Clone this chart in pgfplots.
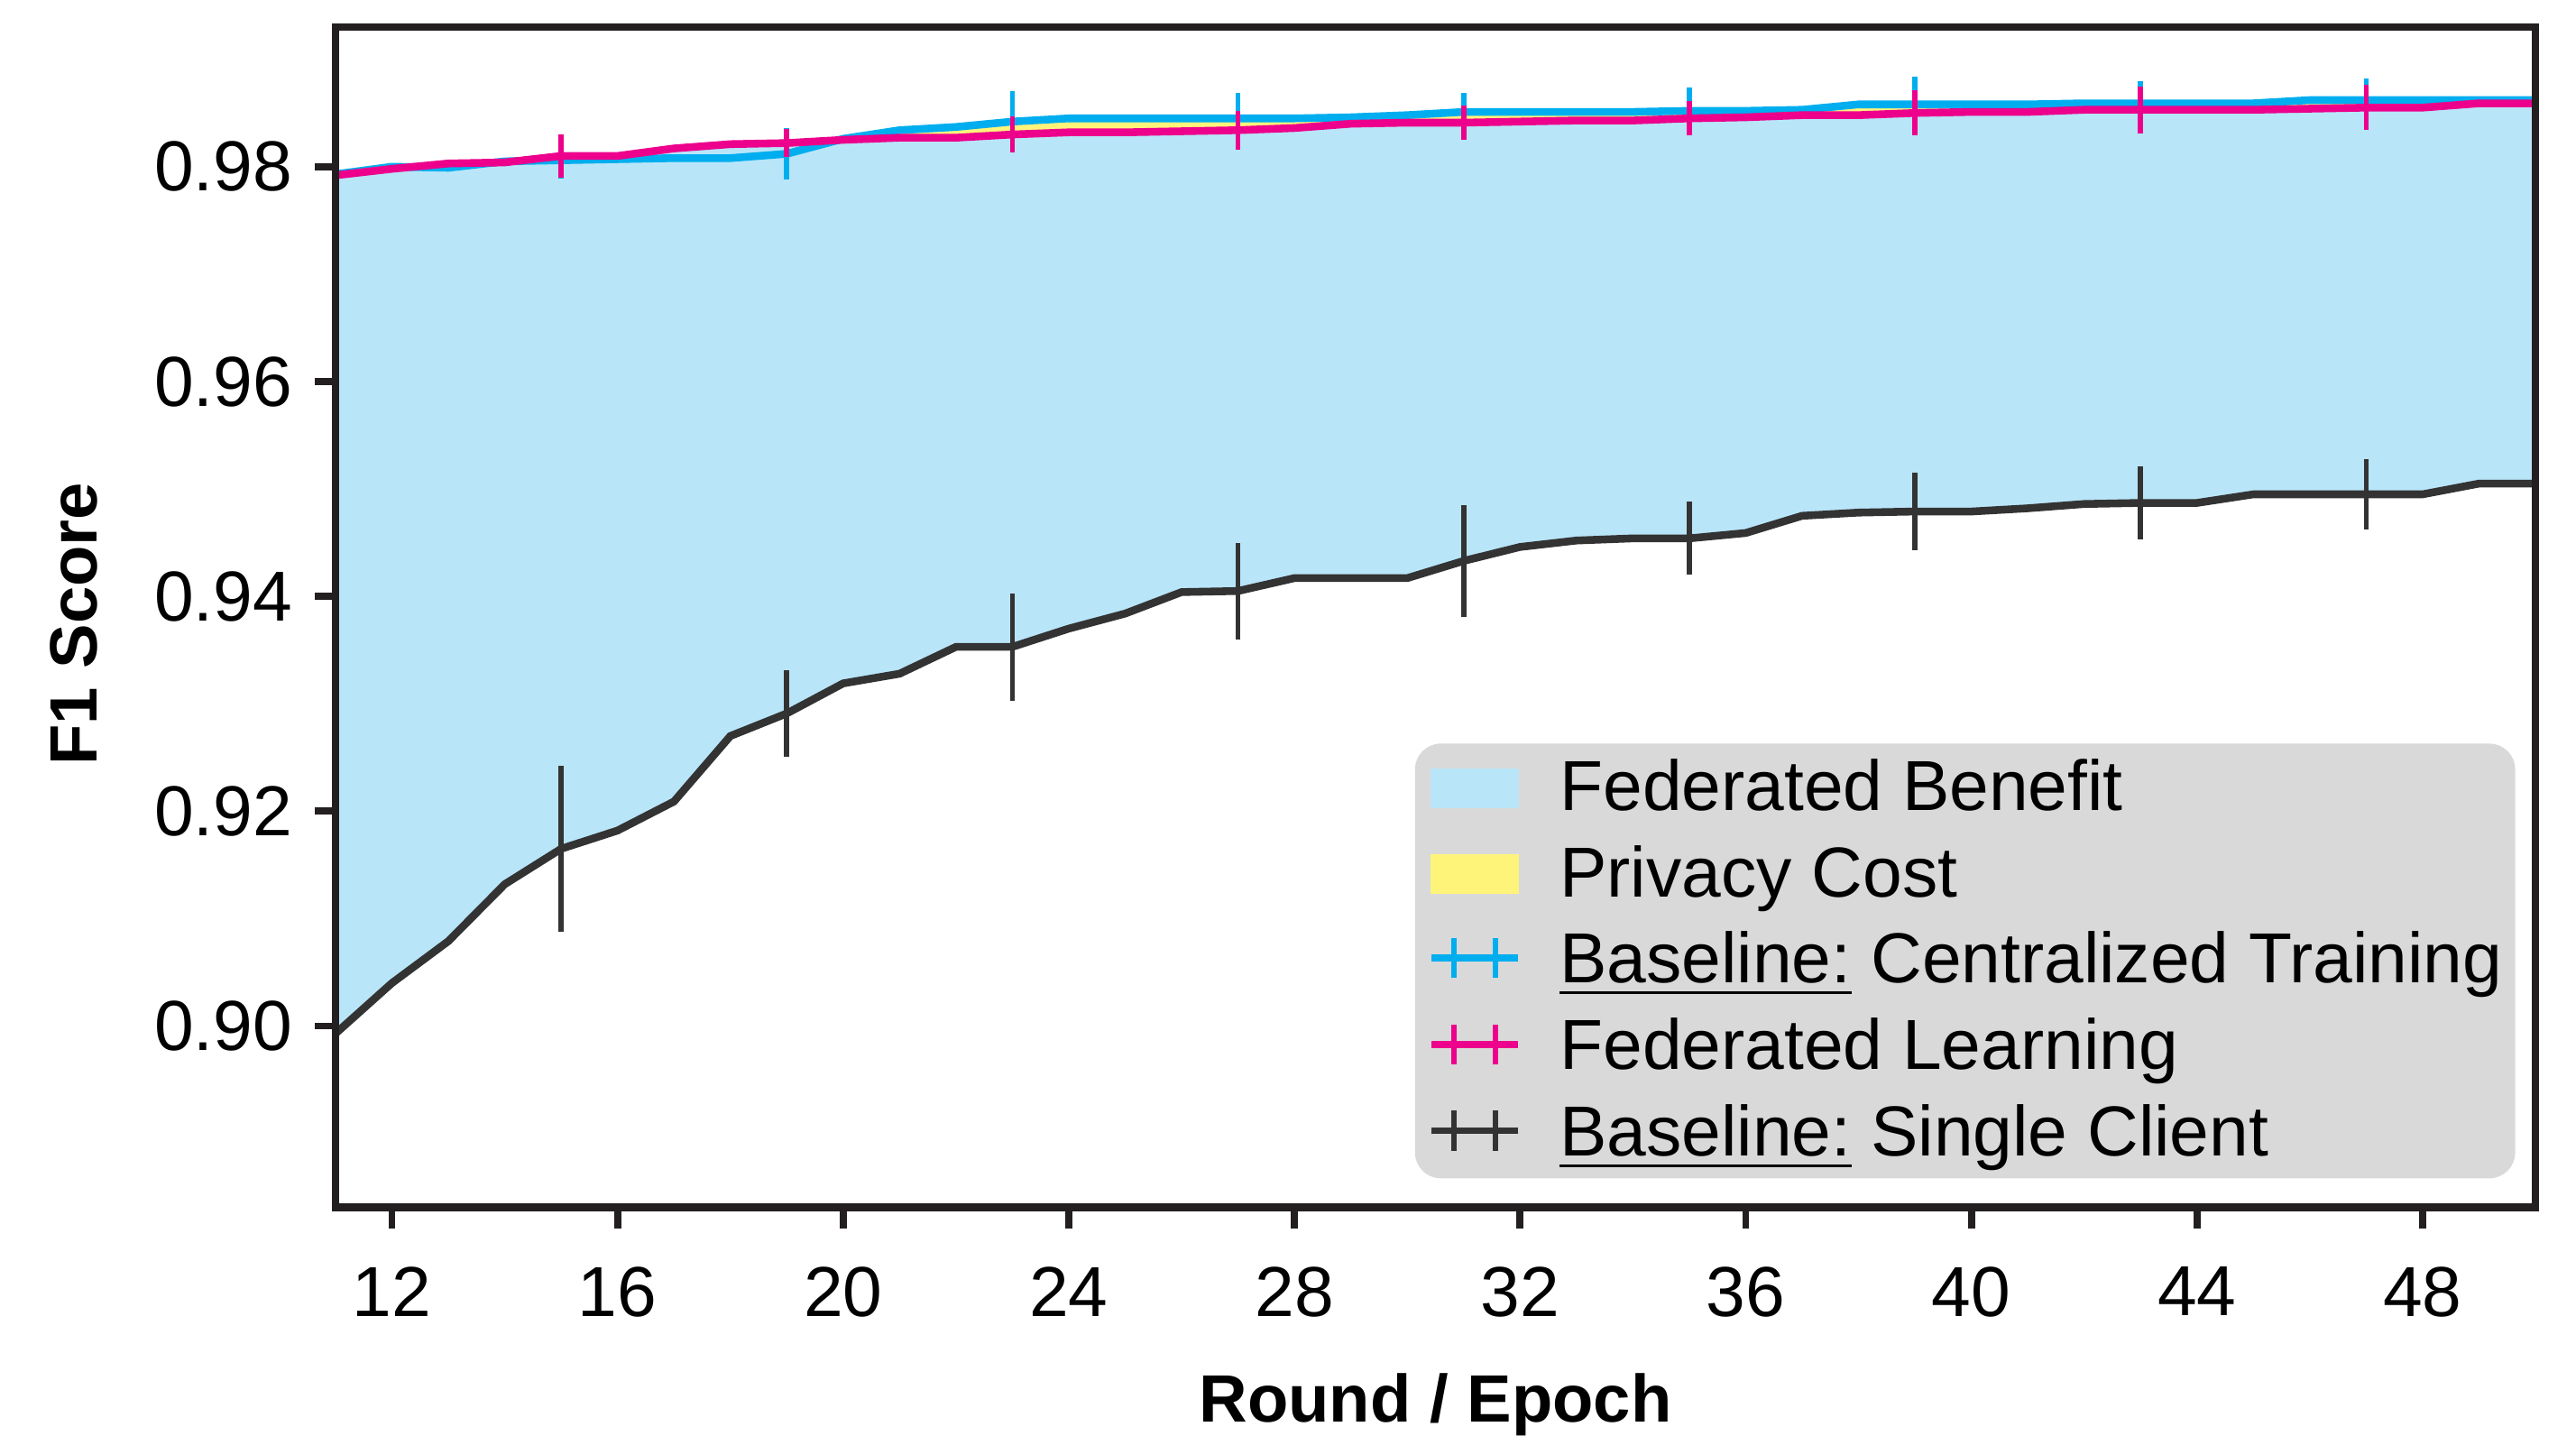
\documentclass[border=0pt]{standalone}
\usepackage{fontspec}
\setmainfont{Liberation Sans}
\usepackage{pgfplots}
\pgfplotsset{compat=1.18}
\usepackage{pgfplotstable}
\usepgfplotslibrary{fillbetween}

\definecolor{cblue}{HTML}{00AEEF}
\definecolor{cpink}{HTML}{EC008C}
\definecolor{cblack}{HTML}{333333}
\definecolor{caxis}{HTML}{231F20}
\definecolor{cfill}{HTML}{B9E5F9}
\definecolor{cyellow}{HTML}{FFF47A}
\definecolor{cleg}{HTML}{D9D9D9}

\pgfplotstableread{
x cen fed single
11 0.9793 0.9792 0.8993
12 0.9800 0.9798 0.9040
13 0.9799 0.9803 0.9079
14 0.9805 0.9804 0.9132
15 0.9806 0.9810 0.9165
16 0.9807 0.9810 0.9182
17 0.9808 0.9817 0.9209
18 0.9808 0.9821 0.9270
19 0.9812 0.9822 0.9291
20 0.9826 0.9825 0.9319
21 0.9834 0.9827 0.9328
22 0.9837 0.9827 0.9353
23 0.9842 0.9830 0.9353
24 0.9845 0.9832 0.9370
25 0.9845 0.9832 0.9384
26 0.9845 0.9833 0.9404
27 0.9845 0.9834 0.9405
28 0.9845 0.9836 0.9417
29 0.9846 0.9840 0.9417
30 0.9848 0.9841 0.9417
31 0.9851 0.9841 0.9433
32 0.9851 0.9842 0.9446
33 0.9851 0.9843 0.9452
34 0.9851 0.9843 0.9454
35 0.9852 0.9845 0.9454
36 0.9852 0.9846 0.9459
37 0.9853 0.9848 0.9475
38 0.9858 0.9848 0.9478
39 0.9858 0.9850 0.9479
40 0.9858 0.9851 0.9479
41 0.9858 0.9851 0.9482
42 0.9859 0.9853 0.9486
43 0.9859 0.9853 0.9487
44 0.9859 0.9853 0.9487
45 0.9859 0.9853 0.9495
46 0.9862 0.9854 0.9495
47 0.9862 0.9855 0.9495
48 0.9862 0.9855 0.9495
49 0.9862 0.9859 0.9505
50 0.9862 0.9859 0.9505
}\data

\pgfplotstableread{
x cen cene fed fede single singlee
15 0.9806 0.0017 0.9810 0.0020 0.9165 0.0077
19 0.9812 0.0024 0.9822 0.0013 0.9291 0.0040
23 0.9842 0.0028 0.9830 0.0017 0.9353 0.0050
27 0.9845 0.0024 0.9834 0.0018 0.9405 0.0045
31 0.9851 0.0018 0.9841 0.0016 0.9433 0.0052
35 0.9852 0.0022 0.9845 0.0016 0.9454 0.0034
39 0.9858 0.0026 0.9850 0.0021 0.9479 0.0036
43 0.9859 0.0021 0.9853 0.0022 0.9487 0.0034
47 0.9862 0.0020 0.9855 0.0021 0.9495 0.0033
}\errs

\begin{document}
\begin{tikzpicture}
\begin{axis}[
  at={(0,0)}, anchor=south west,
  scale only axis, width=341.6pt, height=183.3pt,
  xmin=11, xmax=50, ymin=0.8831, ymax=0.9930,
  xtick={12,16,20,24,28,32,36,40,44,48},
  ytick={0.90,0.92,0.94,0.96,0.98},
  axis on top,
  axis line style={caxis, line width=1.25pt},
  tick align=outside, tick pos=left,
  major tick length=3.2pt,
  tick style={caxis, line width=1.1pt},
  /pgf/number format/assume math mode=true,
  tick label style={font=\fontsize{11}{13}\selectfont},
  yticklabel style={/pgf/number format/.cd, fixed, fixed zerofill, precision=2},
  xticklabel style={yshift=-2.5pt},
  label style={font=\fontsize{10.4}{12}\selectfont\bfseries, inner sep=0pt},
  xlabel={Round / Epoch},
  ylabel={F1 Score},
  xlabel style={at={(axis description cs:0.5,0)}, anchor=base, yshift=-33.3pt},
  ylabel style={at={(axis description cs:-0.119,0.4945)}, anchor=center},
  legend cell align=left,
  legend style={at={(axis description cs:0.9914,0.0237)}, anchor=south east,
    fill=cleg, draw=none, rounded corners=4pt,
    inner xsep=2pt, inner ysep=1pt, row sep=1.5pt, column sep=6pt,
    font=\fontsize{11}{13}\selectfont,
    nodes={inner sep=0pt, text height=9.4pt, text depth=2.5pt}},
]
% invisible named paths
\addplot[name path=pC, draw=none, forget plot] table[x=x, y=cen]{\data};
\addplot[name path=pF, draw=none, forget plot] table[x=x, y=fed]{\data};
\addplot[name path=pS, draw=none, forget plot] table[x=x, y=single]{\data};
% fills
\addplot[fill=cyellow, draw=none, forget plot] fill between[of=pC and pF];
\addplot[fill=cfill, draw=none, forget plot] fill between[of=pF and pS];

% single client
\addplot[cblack, line width=1.2pt, forget plot] table[x=x, y=single]{\data};
\addplot[draw=none, mark=none, forget plot,
  error bars/.cd, y dir=both, y explicit, error mark=none,
  error bar style={draw=cblack, solid, line width=0.8pt}] table[x=x, y=single, y error=singlee]{\errs};
% centralized
\addplot[cblue, line width=1.2pt, forget plot] table[x=x, y=cen]{\data};
\addplot[draw=none, mark=none, forget plot,
  error bars/.cd, y dir=both, y explicit, error mark=none,
  error bar style={draw=cblue, solid, line width=0.8pt}] table[x=x, y=cen, y error=cene]{\errs};
% federated
\addplot[cpink, line width=1.2pt, forget plot] table[x=x, y=fed]{\data};
\addplot[draw=none, mark=none, forget plot,
  error bars/.cd, y dir=both, y explicit, error mark=none,
  error bar style={draw=cpink, solid, line width=0.8pt}] table[x=x, y=fed, y error=fede]{\errs};

\addlegendimage{legend image code/.code={\fill[cfill, sharp corners] (0pt,-2.85pt) rectangle (13.4pt,2.95pt);}}
\addlegendentry{Federated Benefit}
\addlegendimage{legend image code/.code={\fill[cyellow, sharp corners] (0pt,-2.85pt) rectangle (13.4pt,2.95pt);}}
\addlegendentry{Privacy Cost}
\addlegendimage{legend image code/.code={\draw[cblue, sharp corners, line width=1.1pt] (0pt,0.45pt)--(13.4pt,0.45pt); \draw[cblue, line width=0.8pt] (3.5pt,-2.65pt)--(3.5pt,3.55pt) (9.9pt,-2.65pt)--(9.9pt,3.55pt);}}
\addlegendentry{\underline{Baseline:} Centralized Training}
\addlegendimage{legend image code/.code={\draw[cpink, sharp corners, line width=1.1pt] (0pt,0.45pt)--(13.4pt,0.45pt); \draw[cpink, line width=0.8pt] (3.5pt,-2.65pt)--(3.5pt,3.55pt) (9.9pt,-2.65pt)--(9.9pt,3.55pt);}}
\addlegendentry{Federated Learning}
\addlegendimage{legend image code/.code={\draw[cblack, sharp corners, line width=1.1pt] (0pt,0.45pt)--(13.4pt,0.45pt); \draw[cblack, line width=0.8pt] (3.5pt,-2.65pt)--(3.5pt,3.55pt) (9.9pt,-2.65pt)--(9.9pt,3.55pt);}}
\addlegendentry{\underline{Baseline:} Single Client}
\end{axis}
\path (-52.1pt,-35.3pt) rectangle (347.9pt,187.5pt);
\end{tikzpicture}
\end{document}
